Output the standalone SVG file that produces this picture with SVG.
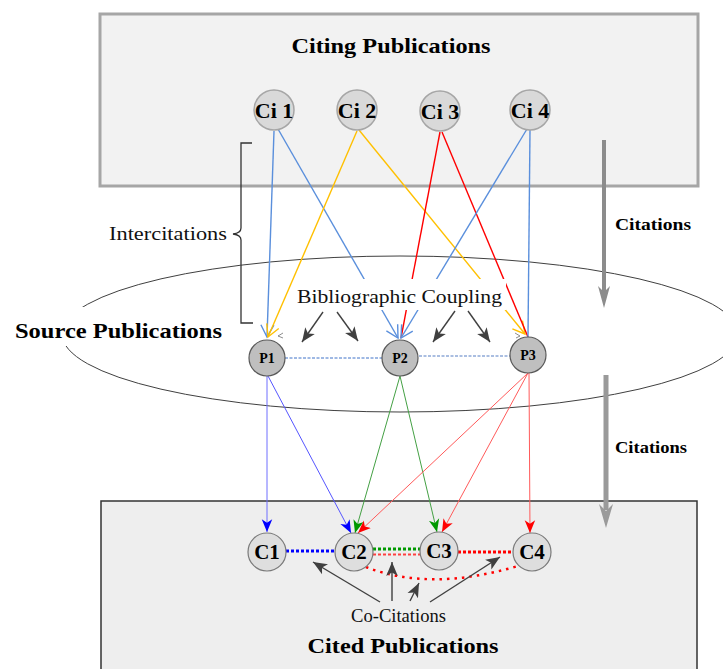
<svg xmlns="http://www.w3.org/2000/svg" width="723" height="669" viewBox="0 0 723 669">
  <style>
    .title { font-family: "Liberation Serif", "Times New Roman", serif; font-weight: bold; font-size: 22px; fill: #000; }
    .lbl { font-family: "Liberation Serif", "Times New Roman", serif; font-size: 18px; fill: #111; }
    .side { font-family: "Liberation Serif", "Times New Roman", serif; font-weight: bold; font-size: 17px; fill: #000; }
    .nlab { font-family: "Liberation Serif", "Times New Roman", serif; font-weight: bold; text-anchor: middle; fill: #000; }
    .ci circle { fill: #d9d9d9; stroke: #a6a6a6; stroke-width: 1.5; }
    .ci text { font-size: 22px; }
    .p circle { fill: #bfbfbf; stroke: #595959; stroke-width: 1.2; }
    .p text { font-size: 14px; }
    .c circle { fill: #dedede; stroke: #7a7a7a; stroke-width: 1.2; }
    .c text { font-size: 21px; }
    .cite { fill: none; stroke-width: 1.4; }
    .ref { fill: none; stroke-width: 1; }
    .gray { fill: none; stroke: #404040; stroke-width: 1.4; }
  </style>
  <defs>
    <!-- open V heads for citing -> source links -->
    <marker id="vBlue" markerUnits="userSpaceOnUse" markerWidth="16" markerHeight="16" viewBox="-1 -8 15 16" refX="12" refY="0" orient="auto">
      <path d="M0,-6.5 L12,0 L0,6.5" fill="none" stroke="#5a8fdc" stroke-width="1.4"/>
    </marker>
    <marker id="vYellow" markerUnits="userSpaceOnUse" markerWidth="16" markerHeight="16" viewBox="-1 -8 15 16" refX="12" refY="0" orient="auto">
      <path d="M0,-6.5 L12,0 L0,6.5" fill="none" stroke="#ffc000" stroke-width="1.4"/>
    </marker>
    <!-- filled heads for source -> cited links -->
    <marker id="fBlue" markerUnits="userSpaceOnUse" markerWidth="14" markerHeight="12" viewBox="0 -5 12 10" refX="11" refY="0" orient="auto">
      <path d="M0,-4.5 L11,0 L0,4.5 L3,0 z" fill="#0000ff"/>
    </marker>
    <marker id="fGreen" markerUnits="userSpaceOnUse" markerWidth="14" markerHeight="12" viewBox="0 -5 12 10" refX="11" refY="0" orient="auto">
      <path d="M0,-4.5 L11,0 L0,4.5 L3,0 z" fill="#009900"/>
    </marker>
    <marker id="fRed" markerUnits="userSpaceOnUse" markerWidth="14" markerHeight="12" viewBox="0 -5 12 10" refX="11" refY="0" orient="auto">
      <path d="M0,-4.5 L11,0 L0,4.5 L3,0 z" fill="#ff0000"/>
    </marker>
    <marker id="fGray" markerUnits="userSpaceOnUse" markerWidth="16" markerHeight="14" viewBox="0 -6 13 12" refX="12" refY="0" orient="auto">
      <path d="M0,-5 L12,0 L0,5 L3,0 z" fill="#404040"/>
    </marker>
  </defs>

  <!-- background panels -->
  <rect x="0" y="0" width="723" height="669" fill="#ffffff"/>
  <rect id="citing-panel" x="100" y="14" width="598" height="172" fill="#f2f2f2" stroke="#a6a6a6" stroke-width="3"/>
  <rect id="cited-panel" x="101" y="501" width="596" height="180" fill="#eeeeee" stroke="#333333" stroke-width="1.5"/>
  <ellipse id="source-ring" cx="400" cy="334" rx="338" ry="78" fill="none" stroke="#404040" stroke-width="1"/>

  <g id="connectors">
    <!-- citing -> source -->
    <line class="cite" x1="274" y1="131" x2="267" y2="337" stroke="#5a8fdc" marker-end="url(#vBlue)"/>
    <line class="cite" x1="278" y1="129" x2="398" y2="338" stroke="#5a8fdc" marker-end="url(#vBlue)"/>
    <line class="cite" x1="357" y1="131" x2="268" y2="337" stroke="#ffc000" marker-end="url(#vYellow)"/>
    <line class="cite" x1="359" y1="130" x2="525" y2="334" stroke="#ffc000" marker-end="url(#vYellow)"/>
    <line class="cite" x1="440" y1="132" x2="401" y2="338" stroke="#ff0000"/>
    <line class="cite" x1="442" y1="132" x2="528" y2="337" stroke="#ff0000"/>
    <line class="cite" x1="527" y1="129" x2="401" y2="338" stroke="#5a8fdc" marker-end="url(#vBlue)"/>
    <line class="cite" x1="530" y1="130" x2="528" y2="337" stroke="#5a8fdc"/>

    <!-- source -> cited -->
    <line class="ref" x1="267" y1="376" x2="267" y2="532" stroke="#6f6fff" marker-end="url(#fBlue)"/>
    <line class="ref" x1="268" y1="376" x2="351" y2="533" stroke="#5555ff" marker-end="url(#fBlue)"/>
    <line class="ref" x1="400" y1="376" x2="355" y2="533" stroke="#44a044" marker-end="url(#fGreen)"/>
    <line class="ref" x1="400" y1="376" x2="437" y2="532" stroke="#44a044" marker-end="url(#fGreen)"/>
    <line class="ref" x1="528" y1="373" x2="358" y2="533" stroke="#ff5a5a" marker-end="url(#fRed)"/>
    <line class="ref" x1="528" y1="373" x2="442" y2="532" stroke="#ff5a5a" marker-end="url(#fRed)"/>
    <line class="ref" x1="529" y1="373" x2="530" y2="533" stroke="#ff5a5a" marker-end="url(#fRed)"/>

    <!-- links between source publications -->
    <line x1="285" y1="358" x2="382" y2="358" stroke="#3f72c8" stroke-width="1" stroke-dasharray="3 1.5"/>
    <line x1="419" y1="356" x2="510" y2="356" stroke="#8fa9d8" stroke-width="1.5" stroke-dasharray="3 1.5"/>

    <!-- co-citation links between cited publications -->
    <line x1="286" y1="551" x2="335" y2="551" stroke="#0000ff" stroke-width="3" stroke-dasharray="3 2"/>
    <line x1="373" y1="549" x2="420" y2="549" stroke="#009900" stroke-width="3" stroke-dasharray="3 2"/>
    <line x1="373" y1="554.5" x2="420" y2="554.5" stroke="#ff4040" stroke-width="2" stroke-dasharray="3 2"/>
    <line x1="458" y1="552" x2="512" y2="552" stroke="#ff0000" stroke-width="3" stroke-dasharray="3 2"/>
    <path d="M366,567 Q430,592 518,566" fill="none" stroke="#ff0000" stroke-width="2.5" stroke-dasharray="2.5 5"/>

    <!-- bibliographic coupling pointers -->
    <line class="gray" x1="323" y1="312" x2="302" y2="342" marker-end="url(#fGray)"/>
    <line class="gray" x1="337" y1="312" x2="358" y2="341" marker-end="url(#fGray)"/>
    <line class="gray" x1="455" y1="311" x2="433" y2="342" marker-end="url(#fGray)"/>
    <line class="gray" x1="468" y1="311" x2="490" y2="342" marker-end="url(#fGray)"/>
    <path d="M283,333 L278,336 L283,338" fill="none" stroke="#707070" stroke-width="0.8"/>
    <path d="M515,333 L520,336 L516,338" fill="none" stroke="#707070" stroke-width="0.8"/>

    <!-- co-citation pointers -->
    <line class="gray" x1="380" y1="602" x2="313" y2="562" marker-end="url(#fGray)" stroke-width="1.2"/>
    <line class="gray" x1="392" y1="601" x2="392" y2="562" marker-end="url(#fGray)" stroke-width="1.2"/>
    <line class="gray" x1="410" y1="601" x2="419" y2="583" marker-end="url(#fGray)" stroke-width="1.2"/>
    <line class="gray" x1="430" y1="602" x2="500" y2="557" marker-end="url(#fGray)" stroke-width="1.2"/>

    <!-- overall citation flow arrows -->
    <line x1="604" y1="140" x2="604" y2="292" stroke="#8c8c8c" stroke-width="4"/>
    <path d="M598,286 L604,308 L610,286 L604,292 z" fill="#8c8c8c"/>
    <line x1="606" y1="375" x2="606" y2="510" stroke="#9a9a9a" stroke-width="5"/>
    <path d="M599,504 L606,528 L613,504 L606,511 z" fill="#9a9a9a"/>

    <!-- intercitation brace -->
    <path d="M252,143 L241,143 L241,228 Q241,233 233,234 Q241,235 241,240 L241,323 L253,323" fill="none" stroke="#333333" stroke-width="1.3"/>
  </g>

  <!-- labels -->
  <text class="title" x="391" y="53" text-anchor="middle" textLength="199" lengthAdjust="spacingAndGlyphs">Citing Publications</text>
  <rect x="6" y="307" width="224" height="39" fill="#ffffff"/>
  <text class="title" x="15" y="338" textLength="207" lengthAdjust="spacingAndGlyphs">Source Publications</text>
  <text class="title" x="403" y="653" text-anchor="middle" textLength="191" lengthAdjust="spacingAndGlyphs">Cited Publications</text>
  <rect x="294" y="279" width="212" height="31" fill="#ffffff"/>
  <text class="lbl" x="297" y="303" font-size="20" textLength="205" lengthAdjust="spacingAndGlyphs">Bibliographic Coupling</text>
  <text class="lbl" x="109" y="240" font-size="18" textLength="118" lengthAdjust="spacingAndGlyphs">Intercitations</text>
  <text class="lbl" x="351" y="622" font-size="17" textLength="95" lengthAdjust="spacingAndGlyphs">Co-Citations</text>
  <text class="side" x="615" y="230" textLength="76" lengthAdjust="spacingAndGlyphs">Citations</text>
  <text class="side" x="615" y="453" textLength="72" lengthAdjust="spacingAndGlyphs">Citations</text>

  <!-- citing publications -->
  <g id="Ci1" class="ci"><circle cx="274" cy="110" r="20"/><text class="nlab" x="274" y="118">Ci 1</text></g>
  <g id="Ci2" class="ci"><circle cx="357" cy="110" r="20"/><text class="nlab" x="357" y="118">Ci 2</text></g>
  <g id="Ci3" class="ci"><circle cx="440" cy="111" r="20"/><text class="nlab" x="440" y="119">Ci 3</text></g>
  <g id="Ci4" class="ci"><circle cx="530" cy="110" r="20"/><text class="nlab" x="530" y="118">Ci 4</text></g>

  <!-- source publications -->
  <g id="P1" class="p"><circle cx="267" cy="358" r="18"/><text class="nlab" x="267" y="363">P1</text></g>
  <g id="P2" class="p"><circle cx="400" cy="358" r="18"/><text class="nlab" x="400" y="363">P2</text></g>
  <g id="P3" class="p"><circle cx="528" cy="355" r="18"/><text class="nlab" x="528" y="360">P3</text></g>

  <!-- cited publications -->
  <g id="C1" class="c"><circle cx="267" cy="552" r="19"/><text class="nlab" x="267" y="559">C1</text></g>
  <g id="C2" class="c"><circle cx="354" cy="552" r="19"/><text class="nlab" x="354" y="559">C2</text></g>
  <g id="C3" class="c"><circle cx="439" cy="551" r="19"/><text class="nlab" x="439" y="558">C3</text></g>
  <g id="C4" class="c"><circle cx="532" cy="552" r="19"/><text class="nlab" x="532" y="559">C4</text></g>
</svg>
